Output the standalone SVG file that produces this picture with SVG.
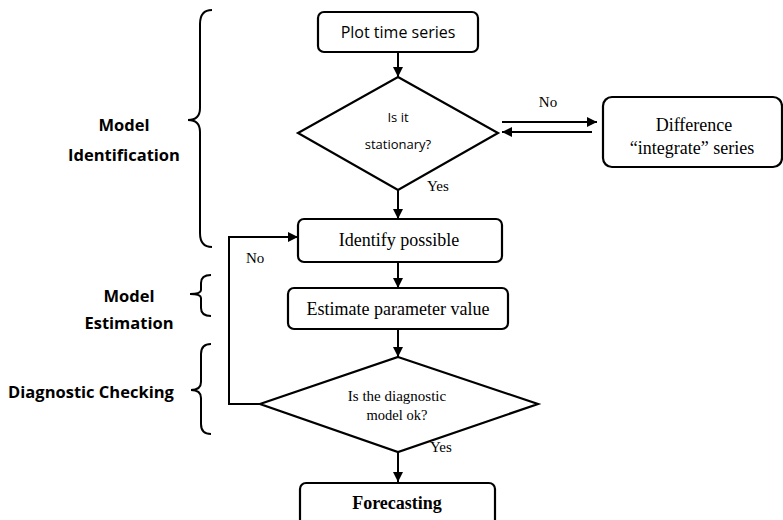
<svg xmlns="http://www.w3.org/2000/svg" width="783" height="520" viewBox="0 0 783 520">
<defs>
<style>
.box{fill:#fff;stroke:#000;stroke-width:2.2}
.ln{fill:none;stroke:#000;stroke-width:2}
.br{fill:none;stroke:#000;stroke-width:2}
.serif{font-family:"Liberation Serif","Times New Roman",serif;fill:#000}
.sans{font-family:"Open Sans","Liberation Sans",sans-serif;fill:#000}
.lbl{font-family:"Open Sans","Liberation Sans",sans-serif;font-weight:bold;fill:#000;font-size:16.5px}
</style>
<marker id="ah" viewBox="0 0 10 10" refX="10" refY="5" markerWidth="5" markerHeight="5" orient="auto" markerUnits="strokeWidth">
<path d="M0,0 L10,5 L0,10 z" fill="#000"/>
</marker>
</defs>
<rect width="783" height="520" fill="#fff"/>

<g id="labels">
<path class="br" d="M212,10 Q200,10 200,24 L200,108 Q200,120 188,120 Q200,120 200,132 L200,233 Q200,247 212,247"/>
<text class="lbl" x="124" y="131" text-anchor="middle">Model</text>
<text class="lbl" x="124" y="161" text-anchor="middle">Identification</text>
<path class="br" d="M211,275 Q201,275 201,283 L201,290 Q201,294 190,294 Q201,294 201,298 L201,308 Q201,316 211,316"/>
<text class="lbl" x="129" y="302" text-anchor="middle">Model</text>
<text class="lbl" x="129" y="329" text-anchor="middle">Estimation</text>
<path class="br" d="M211,344 Q201,344 201,354 L201,382 Q201,390 191,390 Q201,390 201,398 L201,424 Q201,434 211,434"/>
<text class="lbl" x="91" y="398" text-anchor="middle">Diagnostic Checking</text>
</g>

<g id="connectors">
<line class="ln" x1="398" y1="52" x2="398" y2="77" marker-end="url(#ah)"/>
<line class="ln" x1="398" y1="190" x2="398" y2="219" marker-end="url(#ah)"/>
<line class="ln" x1="502" y1="122" x2="597" y2="122" marker-end="url(#ah)"/>
<line class="ln" x1="592" y1="132" x2="502" y2="132" marker-end="url(#ah)"/>
<line class="ln" x1="398" y1="262" x2="398" y2="288" marker-end="url(#ah)"/>
<line class="ln" x1="398" y1="329" x2="398" y2="357" marker-end="url(#ah)"/>
<polyline class="ln" points="260,404 229,404 229,237 298,237" marker-end="url(#ah)"/>
<line class="ln" x1="398" y1="452" x2="398" y2="482" marker-end="url(#ah)"/>
<text class="serif" x="548" y="107" font-size="15" text-anchor="middle">No</text>
<text class="serif" x="427" y="191" font-size="15">Yes</text>
<text class="serif" x="246" y="263" font-size="15">No</text>
<text class="serif" x="430" y="452" font-size="15">Yes</text>
</g>

<g id="plot">
<rect class="box" x="318" y="12" width="160" height="40" rx="6"/>
<text class="sans" x="398" y="38" font-size="16" text-anchor="middle">Plot time series</text>
</g>

<g id="stationary">
<polygon class="box" points="398,77 498,133 398,190 298,133"/>
<text class="sans" x="398" y="122" font-size="13" text-anchor="middle">Is it</text>
<text class="sans" x="398" y="149" font-size="13" text-anchor="middle">stationary?</text>
</g>

<g id="difference">
<rect class="box" x="603" y="97" width="179" height="70" rx="9"/>
<text class="serif" x="694" y="131" font-size="18" text-anchor="middle">Difference</text>
<text class="serif" x="692" y="154" font-size="18" text-anchor="middle">“integrate” series</text>
</g>

<g id="identify">
<rect class="box" x="298" y="219" width="204" height="43" rx="6"/>
<text class="serif" x="399" y="246" font-size="18" text-anchor="middle">Identify possible</text>
</g>

<g id="estimate">
<rect class="box" x="288" y="288" width="220" height="41" rx="6"/>
<text class="serif" x="398" y="315" font-size="18" text-anchor="middle">Estimate parameter value</text>
</g>

<g id="diagnostic">
<polygon class="box" points="398,357 538,404 398,452 260,404"/>
<text class="serif" x="397" y="401" font-size="15" text-anchor="middle">Is the diagnostic</text>
<text class="serif" x="397" y="420" font-size="14.5" text-anchor="middle">model ok?</text>
</g>

<g id="forecasting">
<rect class="box" x="300" y="483" width="195" height="50" rx="6"/>
<text class="serif" x="397" y="509" font-size="18" font-weight="bold" text-anchor="middle">Forecasting</text>
</g>
</svg>
